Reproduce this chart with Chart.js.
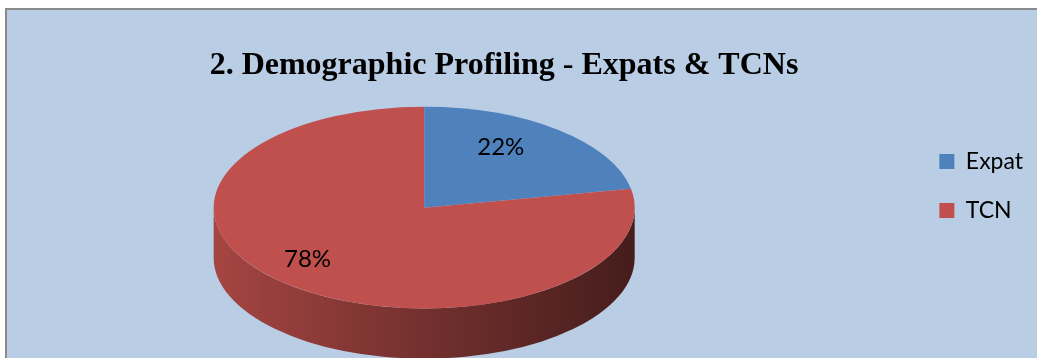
<!DOCTYPE html>
<html>
<head>
<meta charset="utf-8">
<title>Demographic Profiling</title>
<script src="https://cdn.jsdelivr.net/npm/chart.js@4.4.0/dist/chart.umd.min.js"></script>
<style>
  html, body { margin: 0; padding: 0; background: #fff; width: 1037px; height: 358px; overflow: hidden; }
  .marco {
    position: absolute; left: 5px; top: 8px; width: 1032px; height: 350px;
    box-sizing: border-box; background: #b9cde5;
    border-left: 2px solid #8a8a8a; border-top: 2px solid #8a8a8a;
  }
  #grafico { position: absolute; left: -25px; top: 10px; }
</style>
</head>
<body>
<div class="marco"></div>
<canvas id="grafico" width="1062" height="348"></canvas>
<script>
// DATOS
const categorias = ["Expat", "TCN"];
const porcentajes = [22, 78];
const colores = ["#4F81BD", "#C0504D"];
const titulo = "2. Demographic Profiling - Expats & TCNs";

// oscurece un color hex por un factor
function sombra(hex, f) {
  const n = parseInt(hex.slice(1), 16);
  const r = Math.round(((n >> 16) & 255) * f);
  const g = Math.round(((n >> 8) & 255) * f);
  const b = Math.round((n & 255) * f);
  return `rgb(${r},${g},${b})`;
}

// =================PASTEL 3D (elipse + canto)
const pastel3d = {
  id: "pastel3d",
  vista(chart) {
    const o = chart.options.plugins.pastel3d;
    const arc = chart.getDatasetMeta(0).data[0];
    const r = arc.outerRadius;
    const prof = r * o.profundidad;
    return {
      x: arc.x, y: arc.y, r: r,
      sx: o.estirarX, sy: o.inclinar, prof: prof,
      vx: arc.x + o.desplazarX, vy: arc.y - prof / 2,
    };
  },
  beforeDatasetsDraw(chart) {
    const ctx = chart.ctx;
    const v = this.vista(chart);
    const rx = v.r * v.sx;
    const ry = v.r * v.sy;
    const dosPi = Math.PI * 2;

    // canto frontal de cada rebanada (angulos 0..PI quedan al frente)
    chart.getDatasetMeta(0).data.forEach((arc, i) => {
      const color = colores[i];
      const grad = ctx.createLinearGradient(v.vx - rx, 0, v.vx + rx, 0);
      grad.addColorStop(0, sombra(color, 0.86));
      grad.addColorStop(0.5, sombra(color, 0.6));
      grad.addColorStop(1, sombra(color, 0.36));
      [-dosPi, 0, dosPi].forEach((base) => {
        const a = Math.max(arc.startAngle, base);
        const b = Math.min(arc.endAngle, base + Math.PI);
        if (b <= a) return;
        ctx.save();
        ctx.beginPath();
        ctx.ellipse(v.vx, v.vy, rx, ry, 0, a, b);
        ctx.ellipse(v.vx, v.vy + v.prof, rx, ry, 0, b, a, true);
        ctx.closePath();
        ctx.fillStyle = grad;
        ctx.fill();
        ctx.restore();
      });
    });

    // la cara superior se dibuja aplastada
    ctx.save();
    ctx.translate(v.vx, v.vy);
    ctx.scale(v.sx, v.sy);
    ctx.translate(-v.x, -v.y);
  },
  afterDatasetsDraw(chart) {
    const ctx = chart.ctx;
    ctx.restore();
    const v = this.vista(chart);
    const o = chart.options.plugins.pastel3d;
    const total = porcentajes.reduce((s, n) => s + n, 0);

    // etiquetas de porcentaje
    ctx.save();
    ctx.font = o.fuente;
    ctx.fillStyle = "#000";
    ctx.textAlign = "center";
    ctx.textBaseline = "middle";
    chart.getDatasetMeta(0).data.forEach((arc, i) => {
      const mid = (arc.startAngle + arc.endAngle) / 2;
      const d = arc.outerRadius * o.posEtiqueta;
      const px = v.vx + Math.cos(mid) * d * v.sx + o.etiquetaDx;
      const py = v.vy + Math.sin(mid) * d * v.sy + o.etiquetaDy;
      ctx.fillText(Math.round((porcentajes[i] / total) * 100) + "%", px, py);
    });
    ctx.restore();
  },
};

const cPie = document.getElementById("grafico");
new Chart(cPie, {
  type: "pie",
  data: {
    labels: categorias,
    datasets: [
      {
        data: porcentajes,
        backgroundColor: colores,
        borderWidth: 0,
      },
    ],
  },
  plugins: [pastel3d],
  options: {
    responsive: false,
    animation: false,
    events: [],
    layout: {
      padding: { left: 0, right: 4, top: 0, bottom: 0 },
    },
    plugins: {
      pastel3d: {
        estirarX: 1.68,
        inclinar: 0.805,
        profundidad: 0.4,
        desplazarX: -20,
        posEtiqueta: 0.72,
        etiquetaDx: -20,
        etiquetaDy: -4,
        fuente: "24px Lato",
      },
      title: {
        display: true,
        text: titulo,
        color: "#000",
        font: { family: "Liberation Serif", size: 32, weight: "bold" },
        padding: { top: 37, bottom: 22 },
      },
      legend: {
        position: "right",
        align: "start",
        title: { display: true, text: "", font: { size: 10 }, padding: { top: 102, bottom: 0 } },
        labels: {
          boxWidth: 15,
          boxHeight: 15,
          padding: 26,
          color: "#000",
          font: { family: "Lato", size: 23 },
        },
      },
      tooltip: { enabled: false },
    },
  },
});
</script>
</body>
</html>
